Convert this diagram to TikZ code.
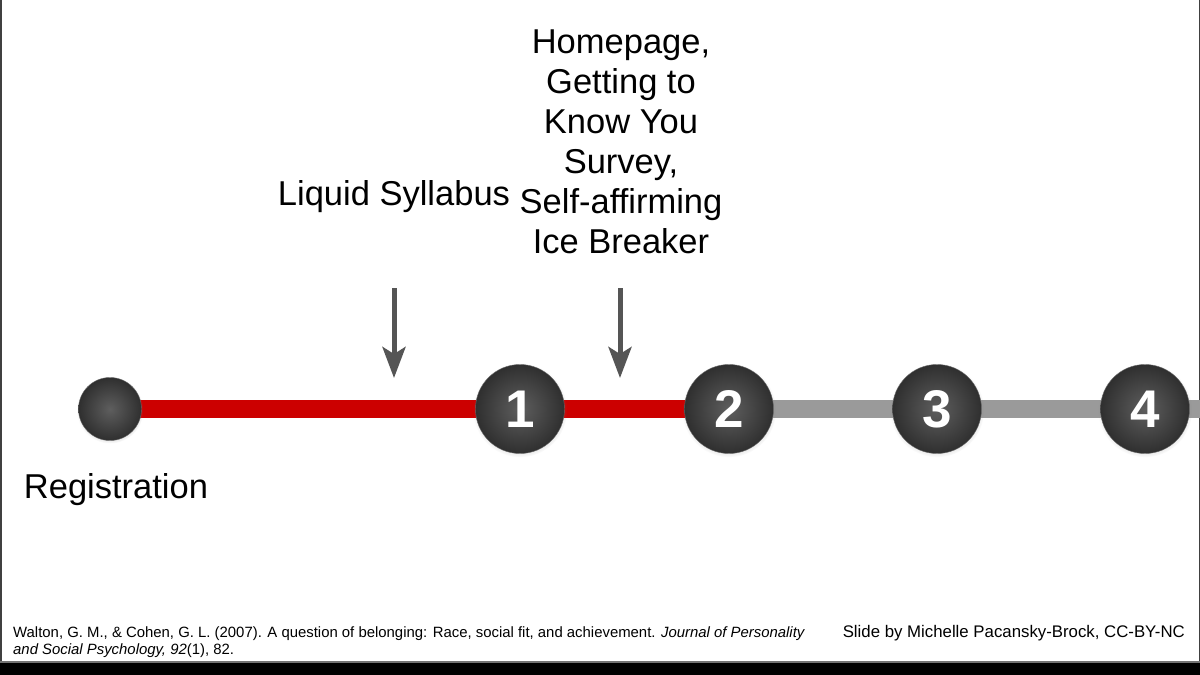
\documentclass[tikz,border=0pt]{standalone}
\usepackage{fontspec}
\setmainfont{Liberation Sans}
\usetikzlibrary{arrows.meta,shadows}
\definecolor{linered}{HTML}{CC0000}
\definecolor{linegray}{HTML}{9A9A9A}
\definecolor{arrowgray}{HTML}{555555}
\definecolor{balldark}{HTML}{2F2F2F}
\definecolor{balllight}{HTML}{5E5E5E}
\begin{document}
\begin{tikzpicture}[x=1pt,y=-1pt,
  ball/.style={circle,inner sep=0pt,minimum size=#1,
    inner color=balllight,outer color=balldark,
    draw=black!60,line width=0.4pt,
    circular drop shadow={shadow xshift=0pt,shadow yshift=-1pt,opacity=0.25,shadow scale=1.06},
    text=white,font=\fontsize{53}{53}\selectfont\bfseries},
  track/.style={line width=18pt},
  downarrow/.style={draw=arrowgray,line width=5pt,-{Stealth[length=31pt,width=23pt,inset=7pt]}},
  big/.style={font=\fontsize{34.5}{40}\selectfont,text=black,inner sep=0pt}
]
\useasboundingbox (0,0) rectangle (1200,675);
\fill[white] (0,0) rectangle (1200,675);
% frame
\fill[black!75] (0,0) rectangle (1.5,662);
\fill[black!75] (1198.5,0) rectangle (1200,662);
\fill[black!55] (0,660.5) rectangle (1200,662.5);
\fill[black] (0,662.5) rectangle (1200,675);

% coordinates
\coordinate (reg) at (110,409);
\coordinate (c1) at (520,409);
\coordinate (c2) at (729,409);
\coordinate (c3) at (937,409);
\coordinate (c4) at (1145,409);
\coordinate (endr) at (1200,409);

% tracks
\draw[track,linegray] (c2) -- (endr);
\draw[track,linered] (reg) -- (c2);

% balls
\node[ball=63pt] (nreg) at (reg) {};
\node[ball=89pt] (n1) at (c1) {1};
\node[ball=89pt] (n2) at (c2) {2};
\node[ball=89pt] (n3) at (c3) {3};
\node[ball=89pt] (n4) at (c4) {4};

% arrows
\coordinate (a1s) at (394,288);
\coordinate (a1e) at (394,378);
\coordinate (a2s) at (620,288);
\coordinate (a2e) at (620,378);
\draw[downarrow] (a1s) -- (a1e);
\draw[downarrow] (a2s) -- (a2e);

% labels
\node[big] (liq) at (394,197) {Liquid Syllabus};
\node[big,align=center,anchor=north] (home) at (621,30) {Homepage,\\Getting to\\Know You\\Survey,\\Self-affirming\\Ice Breaker};
\node[big] (regl) at (116,490) {Registration};

% footer
\node[anchor=north west,inner sep=0pt,align=left,font=\fontsize{14.9}{17}\selectfont] (cite) at (13,626)
  {Walton, G. M., \& Cohen, G. L. (2007). A question of belonging: Race, social fit, and achievement. \textit{Journal of Personality}\\
   \textit{and Social Psychology, 92}(1), 82.};
\node[anchor=north east,inner sep=0pt,font=\fontsize{16.8}{19}\selectfont] (credit) at (1185,625)
  {Slide by Michelle Pacansky-Brock, CC-BY-NC};
\end{tikzpicture}
\end{document}
